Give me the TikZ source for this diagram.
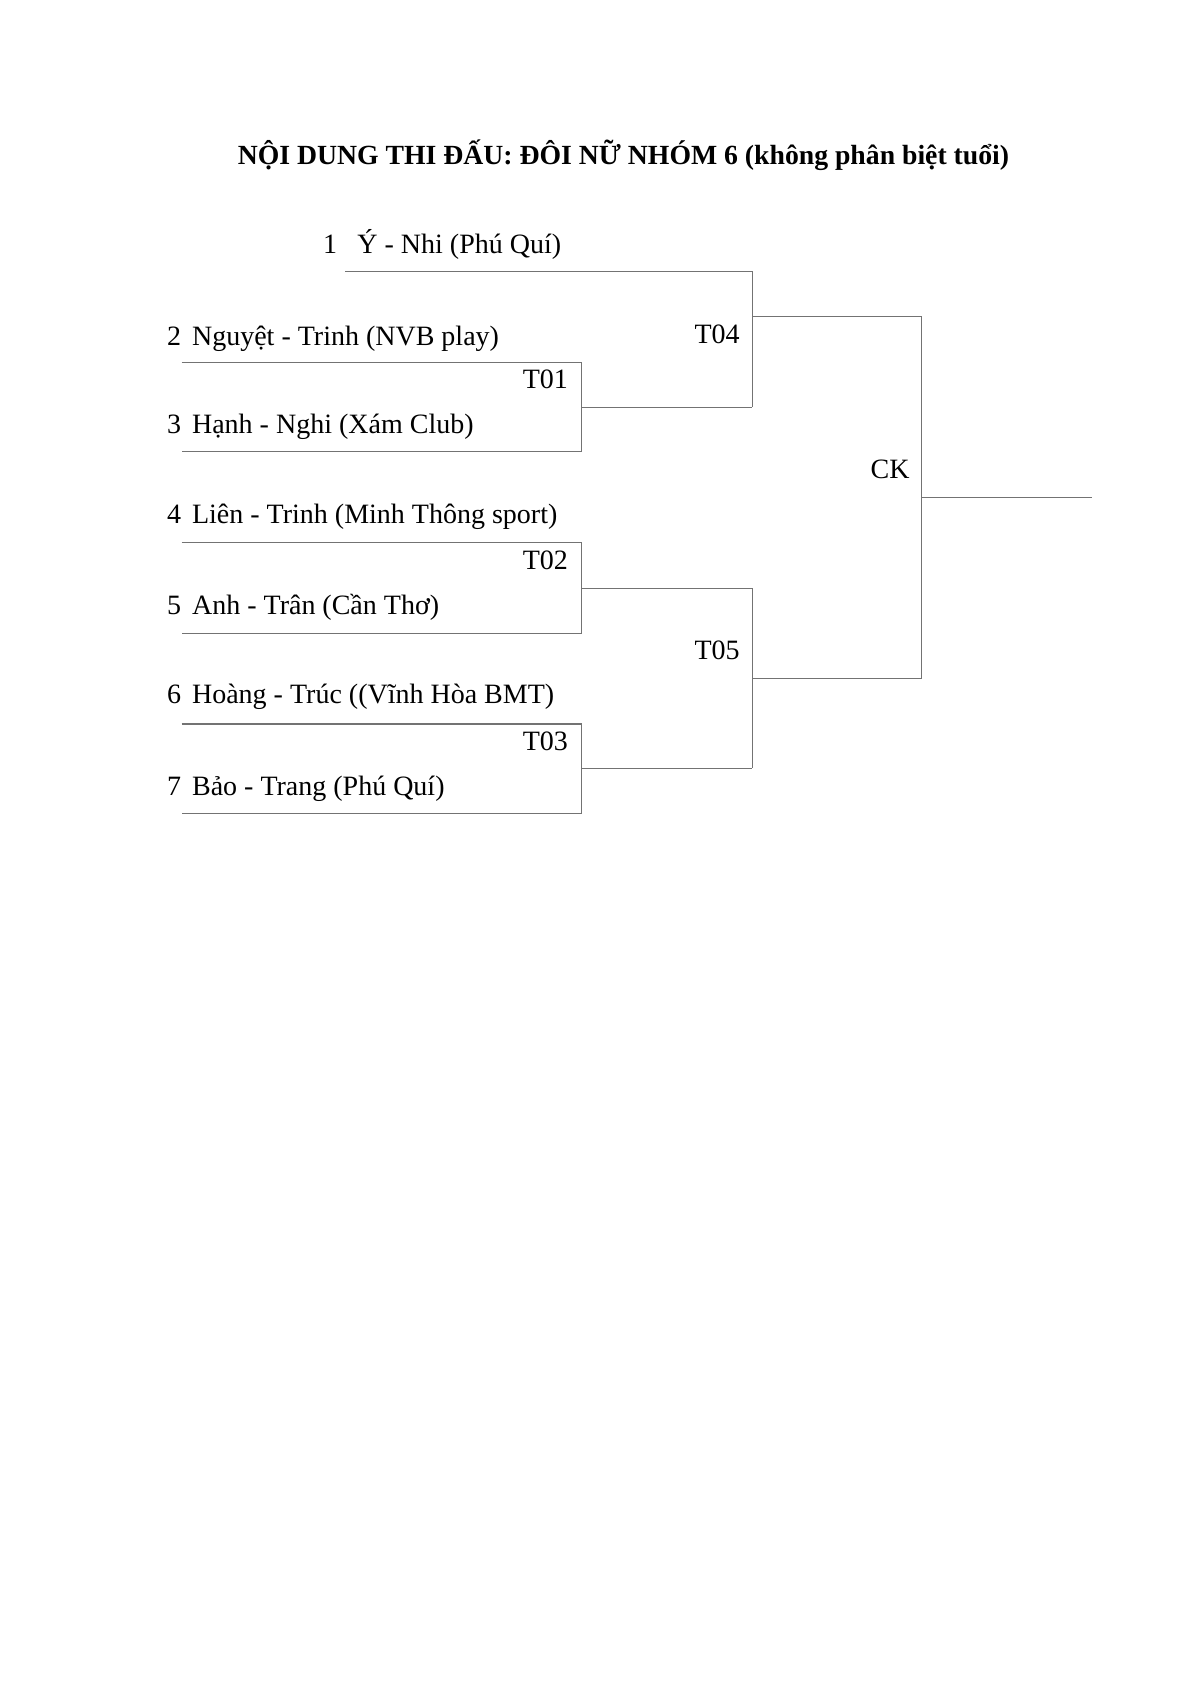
\documentclass[tikz,border=0pt]{standalone}
\usepackage{fontspec}
\setmainfont{Liberation Serif}
\definecolor{linegray}{RGB}{115,115,115}
\tikzset{
  brline/.style={draw=linegray, line width=0.7pt},
  entrant/.style={anchor=base west, inner sep=0pt, font=\fontsize{14}{16}\selectfont},
  seednum/.style={anchor=base west, inner sep=0pt, font=\fontsize{14}{16}\selectfont},
  matchlbl/.style={anchor=base east, inner sep=0pt, font=\fontsize{14}{16}\selectfont},
  ttlstyle/.style={anchor=base, inner sep=0pt, font=\bfseries\fontsize{13.86}{16}\selectfont}
}
\begin{document}
\begin{tikzpicture}[x=0.5pt,y=-0.5pt]
\useasboundingbox (0,0) rectangle (1190,1683);
\node[ttlstyle] (title) at (623.5,164) {NỘI DUNG THI ĐẤU: ĐÔI NỮ NHÓM 6 (không phân biệt tuổi)};
% entrants
\node[seednum] (n1) at (322.7,253.3) {1};
\node[entrant] (e1) at (357,253.3) {Ý - Nhi (Phú Quí)};
\node[seednum] (n2) at (166.7,345) {2};
\node[entrant] (e2) at (191.7,345) {Nguyệt - Trinh (NVB play)};
\node[seednum] (n3) at (166.7,433.3) {3};
\node[entrant] (e3) at (191.7,433.3) {Hạnh - Nghi (Xám Club)};
\node[seednum] (n4) at (166.7,523.3) {4};
\node[entrant] (e4) at (191.7,523.3) {Liên - Trinh (Minh Thông sport)};
\node[seednum] (n5) at (166.7,614) {5};
\node[entrant] (e5) at (191.7,614) {Anh - Trân (Cần Thơ)};
\node[seednum] (n6) at (166.7,703.3) {6};
\node[entrant] (e6) at (191.7,703.3) {Hoàng - Trúc ((Vĩnh Hòa BMT)};
\node[seednum] (n7) at (166.7,795) {7};
\node[entrant] (e7) at (191.7,795) {Bảo - Trang (Phú Quí)};
% match labels
\node[matchlbl] (m1) at (568.3,388.3) {T01};
\node[matchlbl] (m2) at (568.3,569.3) {T02};
\node[matchlbl] (m3) at (568.3,750) {T03};
\node[matchlbl] (m4) at (740,343.3) {T04};
\node[matchlbl] (m5) at (740,659.3) {T05};
\node[matchlbl] (mck) at (910,478.3) {CK};
% coordinates
\coordinate (l1s) at (345,271.7);  \coordinate (l1e) at (752.3,271.7);
\coordinate (l2s) at (181.7,362.7);  \coordinate (l2e) at (581.7,362.7);
\coordinate (l3s) at (181.7,451.7);  \coordinate (l3e) at (581.7,451.7);
\coordinate (l4s) at (181.7,542.7);  \coordinate (l4e) at (581.7,542.7);
\coordinate (l5s) at (181.7,633.3);  \coordinate (l5e) at (581.7,633.3);
\coordinate (l6s) at (181.7,724);    \coordinate (l6e) at (581.7,724);
\coordinate (l7s) at (181.7,813.3);  \coordinate (l7e) at (581.7,813.3);
\coordinate (t01s) at (581.7,407.3); \coordinate (t01e) at (752.3,407.3);
\coordinate (t02s) at (581.7,588.3); \coordinate (t02e) at (752.3,588.3);
\coordinate (t03s) at (581.7,768.3); \coordinate (t03e) at (752.3,768.3);
\coordinate (t04s) at (752.3,316.3); \coordinate (t04e) at (921.7,316.3);
\coordinate (t05s) at (752.3,678.3); \coordinate (t05e) at (921.7,678.3);
\coordinate (cks) at (921.7,497.7); \coordinate (cke) at (1092.3,497.7);
% round 1
\draw[brline] (l2s) -- (l2e) -- (l3e) -- (l3s);
\draw[brline] (t01s) -- (t01e);
\draw[brline] (l4s) -- (l4e) -- (l5e) -- (l5s);
\draw[brline] (t02s) -- (t02e);
\draw[brline] (l6s) -- (l6e) -- (l7e) -- (l7s);
\draw[brline] (t03s) -- (t03e);
% semifinals
\draw[brline] (l1s) -- (l1e) -- (t01e);
\draw[brline] (t04s) -- (t04e);
\draw[brline] (t02e) -- (t03e);
\draw[brline] (t05s) -- (t05e);
% final
\draw[brline] (t04e) -- (t05e);
\draw[brline] (cks) -- (cke);
\end{tikzpicture}
\end{document}
